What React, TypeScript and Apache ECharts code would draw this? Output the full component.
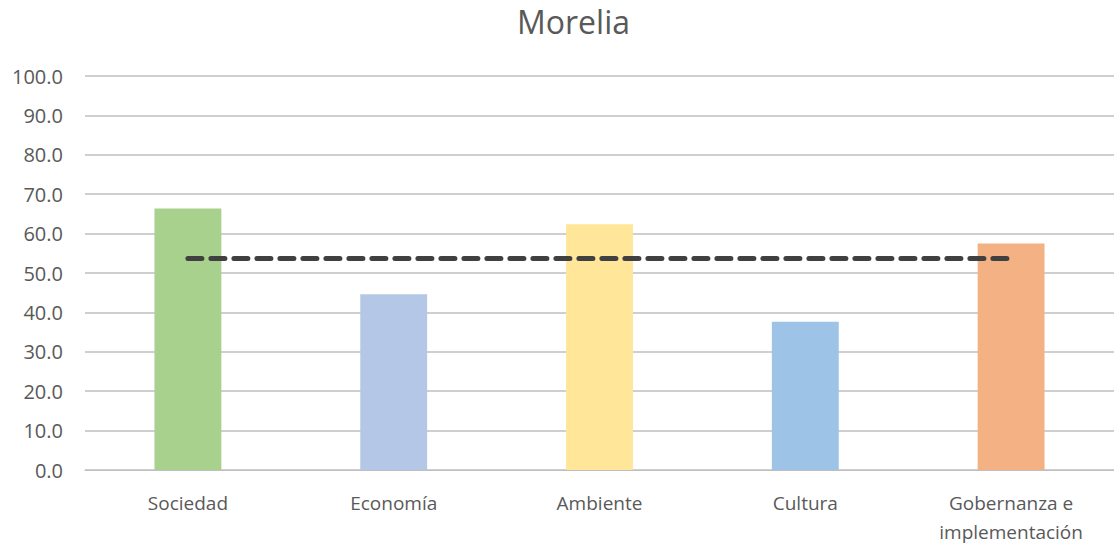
import React, { useEffect, useRef } from "react";
import * as echarts from "echarts";

const categories = ["Sociedad", "Economía", "Ambiente", "Cultura", "Gobernanza e\nimplementación"];
const values = [66.4, 44.6, 62.4, 37.6, 57.5];
const average = [53.7, 53.7, 53.7, 53.7, 53.7];
const barColors = ["#A9D18E", "#B4C7E7", "#FFE699", "#9DC3E6", "#F4B183"];
const title = "Morelia";

export default function App() {
  const ref = useRef<HTMLDivElement>(null);
  useEffect(() => {
    if (!ref.current) return;
    const chart = echarts.init(ref.current, null, { renderer: "svg" });
    const font = "'Open Sans', 'Noto Sans', sans-serif";
    chart.setOption({
      animation: false,
      title: {
        text: title,
        left: 512,
        top: 0,
        textStyle: { color: "#595959", fontSize: 32, fontWeight: "normal", fontFamily: font },
      },
      grid: { left: 85, right: 0, top: 76, bottom: 73, containLabel: false },
      xAxis: {
        type: "category",
        data: categories,
        axisLine: { lineStyle: { color: "#BFBFBF", width: 1 } },
        axisTick: { show: false },
        axisLabel: { color: "#595959", fontSize: 19, fontFamily: font, margin: 18, lineHeight: 29 },
      },
      yAxis: {
        type: "value",
        min: 0,
        max: 100,
        interval: 10,
        axisLine: { show: false },
        axisTick: { show: false },
        splitLine: { lineStyle: { color: "#BFBFBF", width: 1.5 } },
        axisLabel: {
          color: "#595959",
          fontSize: 20,
          fontFamily: font,
          margin: 22,
          formatter: (v: number) => v.toFixed(1),
        },
      },
      series: [
        {
          type: "bar",
          data: values.map((v, i) => ({ value: v, itemStyle: { color: barColors[i] } })),
          barWidth: "32.5%",
        },
        {
          type: "line",
          data: average,
          symbol: "none",
          lineStyle: { color: "#404040", width: 5, type: [14, 9], cap: "round" },
          z: 5,
        },
      ],
    });
    return () => chart.dispose();
  }, []);
  return <div ref={ref} style={{ position: "absolute", left: 0, top: 0, width: 1114, height: 546, background: "#fff" }} />;
}
